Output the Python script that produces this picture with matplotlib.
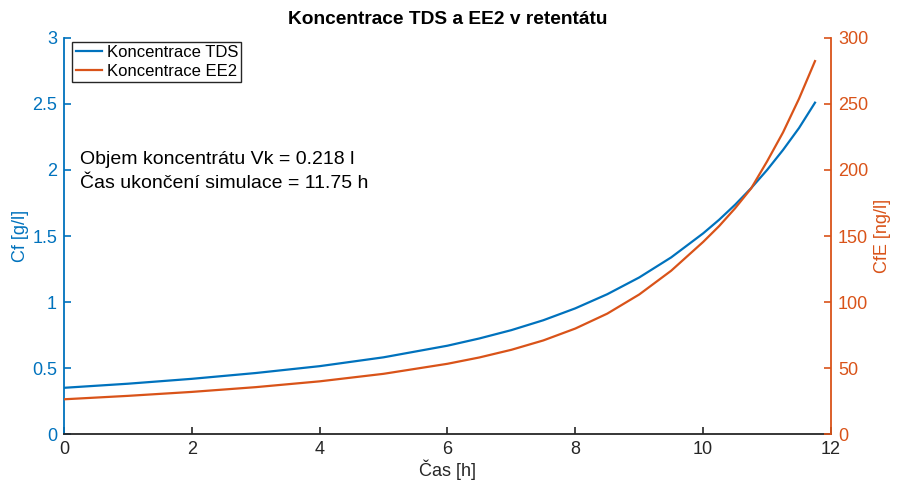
import matplotlib
matplotlib.use("Agg")
import matplotlib.pyplot as plt

plt.rcParams['font.family'] = ['Liberation Sans', 'DejaVu Sans']

# cas [h]
cas = [0, 1, 2, 3, 4, 5, 6, 6.5, 7, 7.5, 8, 8.5, 9, 9.5, 10, 10.25, 10.5,
       10.75, 11, 11.25, 11.5, 11.75]
# koncentrace TDS [g/l]
cf_tds = [0.350, 0.381, 0.418, 0.462, 0.514, 0.581, 0.669, 0.724, 0.787, 0.862,
          0.952, 1.059, 1.186, 1.338, 1.520, 1.623, 1.737, 1.862, 2.000, 2.152,
          2.318, 2.510]
# koncentrace EE2 [ng/l]
cf_ee2 = [26.3, 28.9, 31.9, 35.5, 39.9, 45.6, 53.2, 58.0, 63.8, 70.9,
          79.9, 91.2, 105.7, 123.7, 145.5, 157.5, 171.0, 186.0, 206.5, 228.5,
          254.0, 282.5]

blue = '#0072BD'
orange = '#D95319'
dark = '#262626'
fs = 13

fig = plt.figure(figsize=(8.97, 4.87), dpi=100)
ax = fig.add_axes([0.0713, 0.1088, 0.8551, 0.8132])
ax2 = ax.twinx()

h1, = ax.plot(cas, cf_tds, color=blue, lw=1.6, label='Koncentrace TDS')
h2, = ax2.plot(cas, cf_ee2, color=orange, lw=1.6, label='Koncentrace EE2')

ax.set_xlim(0, 12)
ax.set_ylim(0, 3)
ax2.set_ylim(0, 300)
ax.set_xticks(range(0, 13, 2))
ax.set_yticks([0, 0.5, 1, 1.5, 2, 2.5, 3])
ax.set_yticklabels(['0', '0.5', '1', '1.5', '2', '2.5', '3'])
ax2.set_yticks(range(0, 301, 50))

for a in (ax, ax2):
    a.spines['top'].set_visible(False)
ax.spines['right'].set_visible(False)
ax2.spines['left'].set_visible(False)
ax2.spines['bottom'].set_visible(False)
ax.spines['left'].set_color(blue)
ax2.spines['right'].set_color(orange)
ax.spines['bottom'].set_color(dark)
for s in (ax.spines['left'], ax2.spines['right'], ax.spines['bottom']):
    s.set_linewidth(1.3)

ax.tick_params(axis='x', direction='in', length=5, width=1.2, colors=dark, labelsize=fs, pad=5)
ax.tick_params(axis='y', direction='in', length=5, width=1.2, colors=blue, labelsize=fs, pad=5)
ax2.tick_params(axis='y', direction='in', length=5, width=1.2, colors=orange, labelsize=fs, pad=5)

ax.set_xlabel('Čas [h]', fontsize=fs, color=dark, labelpad=1)
ax.set_ylabel('Cf [g/l]', fontsize=fs, color=blue, labelpad=2)
ax2.set_ylabel('CfE [ng/l]', fontsize=fs, color=orange, labelpad=4)
ax.set_title('Koncentrace TDS a EE2 v retentátu', fontsize=13.8, fontweight='bold', pad=10)

leg = ax2.legend(handles=[h1, h2], loc='upper left', bbox_to_anchor=(0.011, 0.99),
                 fontsize=12, handlelength=1.6, handletextpad=0.25, borderpad=0.2,
                 labelspacing=0.22, fancybox=False, framealpha=1, borderaxespad=0)
leg.get_frame().set_edgecolor(dark)
leg.get_frame().set_linewidth(1.0)

ax.text(0.021, 0.663, 'Objem koncentrátu Vk = 0.218 l\nČas ukončení simulace = 11.75 h',
        transform=ax.transAxes, fontsize=14, color='black', va='center',
        ha='left', linespacing=1.55)

fig.savefig('out.png', dpi=100)
